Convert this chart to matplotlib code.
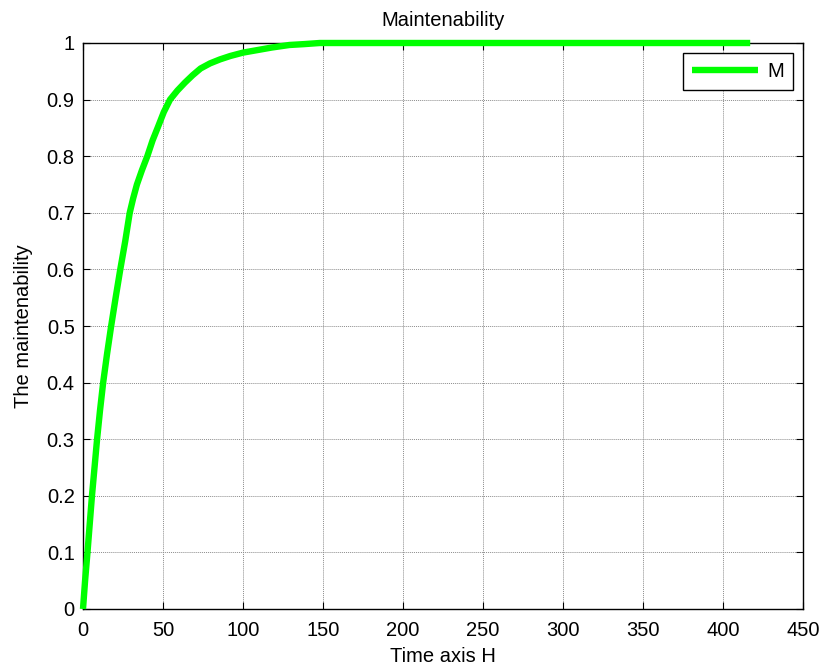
import matplotlib
matplotlib.use("Agg")
import matplotlib.pyplot as plt

plt.rcParams['font.family'] = ['Liberation Sans', 'DejaVu Sans']

# Maintainability curve M(t)
time_h = [0, 1.3, 2.8, 4.2, 5.6, 7.2, 8.8, 10.6, 12.6, 15.0, 17.6, 20.4,
          23.3, 26.4, 29.2, 31.3, 33.7, 36.8, 40.2, 43.5, 46.9, 50.5,
          54.4, 59.0, 63.7, 68.5, 73.5, 79.4, 85.6, 92.0, 100, 110, 118,
          129, 138, 148, 200, 300, 417]
maint = [0, 0.05, 0.1, 0.15, 0.2, 0.25, 0.3, 0.35, 0.4, 0.45, 0.5, 0.55,
         0.6, 0.65, 0.7, 0.725, 0.75, 0.775, 0.8, 0.828, 0.852, 0.878,
         0.9, 0.916, 0.93, 0.943, 0.955, 0.964, 0.971, 0.977, 0.983, 0.988, 0.992,
         0.9965, 0.998, 1.0, 1.0, 1.0, 1.0]

x_ticks = [0, 50, 100, 150, 200, 250, 300, 350, 400, 450]
y_ticks = [0, 0.1, 0.2, 0.3, 0.4, 0.5, 0.6, 0.7, 0.8, 0.9, 1]
y_tick_labels = ['0', '0.1', '0.2', '0.3', '0.4', '0.5', '0.6', '0.7', '0.8', '0.9', '1']

fig = plt.figure(figsize=(8.25, 6.7), dpi=100)
ax = fig.add_axes([83 / 825, 1 - 609 / 670, 720 / 825, 566 / 670])

ax.plot(time_h, maint, color='#00ff00', linewidth=4.6, label='M',
        clip_on=False, zorder=5, solid_capstyle='butt', solid_joinstyle='round')

ax.set_xlim(0, 450)
ax.set_ylim(0, 1)
ax.set_xticks(x_ticks)
ax.set_xticklabels([str(v) for v in x_ticks])
ax.set_yticks(y_ticks)
ax.set_yticklabels(y_tick_labels)

fs = 14.5
ax.tick_params(axis='both', direction='in', length=5, width=0.8, top=True,
               right=True, labelsize=fs, colors='black')
ax.tick_params(axis='x', pad=9)
ax.tick_params(axis='y', pad=6)
ax.grid(True, color='0.55', linestyle=(0, (1, 1)), linewidth=0.7)
for sp in ax.spines.values():
    sp.set_linewidth(1.0)
    sp.set_color('black')

ax.set_title('Maintenability', fontsize=fs, pad=12)
ax.set_xlabel('Time axis H', fontsize=fs, labelpad=5)
ax.set_ylabel('The maintenability', fontsize=fs, labelpad=10)

leg = ax.legend(loc='upper right', bbox_to_anchor=(0.986, 0.982),
                borderaxespad=0, fontsize=fs, fancybox=False, framealpha=1,
                edgecolor='black', handlelength=3.3, handletextpad=0.45,
                borderpad=0.45)
leg.get_frame().set_linewidth(1.0)

fig.savefig('out.png', dpi=100)
